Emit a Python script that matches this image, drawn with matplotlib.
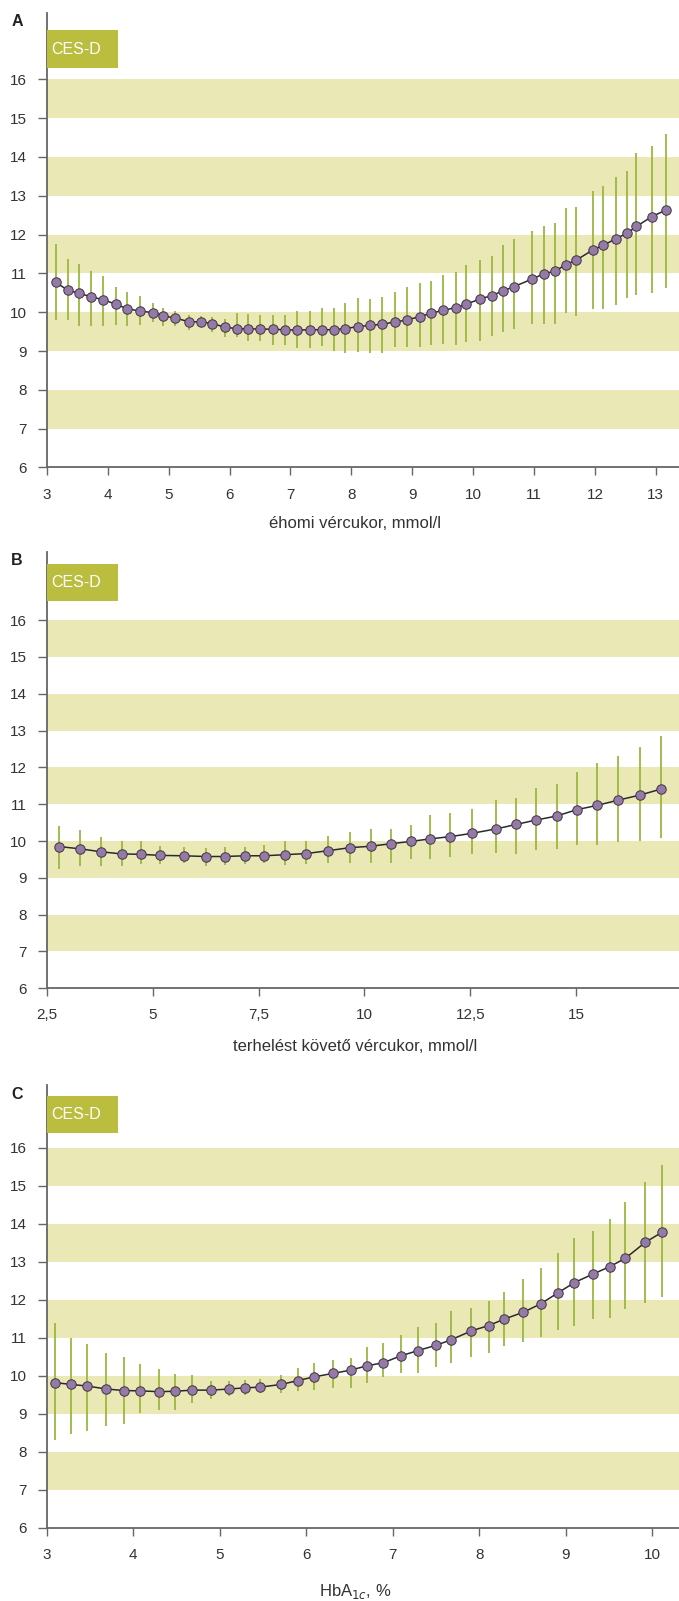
import matplotlib
matplotlib.use("Agg")
import matplotlib.pyplot as plt
from matplotlib.patches import Rectangle

plt.rcParams["font.family"] = ["Liberation Sans", "DejaVu Sans"]

# Panel A: fasting glucose (mmol/l) vs CES-D
a_x = [3.15, 3.34, 3.53, 3.72, 3.93, 4.13, 4.32, 4.53, 4.75, 4.91,
       5.10, 5.33, 5.53, 5.72, 5.93, 6.12, 6.31, 6.50, 6.72, 6.91,
       7.10, 7.32, 7.52, 7.71, 7.90, 8.11, 8.30, 8.50, 8.72, 8.91,
       9.13, 9.30, 9.51, 9.72, 9.89, 10.11, 10.31, 10.49, 10.67, 10.96,
       11.16, 11.35, 11.52, 11.69, 11.97, 12.13, 12.34, 12.53, 12.68, 12.93,
       13.16]
a_y = [10.77, 10.57, 10.49, 10.40, 10.32, 10.21, 10.09, 10.03, 9.99, 9.91,
       9.85, 9.76, 9.75, 9.71, 9.61, 9.58, 9.57, 9.57, 9.56, 9.55,
       9.54, 9.55, 9.55, 9.55, 9.58, 9.63, 9.66, 9.69, 9.75, 9.80,
       9.89, 9.97, 10.05, 10.12, 10.21, 10.34, 10.43, 10.55, 10.66, 10.85,
       10.99, 11.06, 11.23, 11.34, 11.61, 11.72, 11.89, 12.04, 12.21, 12.46,
       12.63]
a_hi = [11.76, 11.37, 11.24, 11.05, 10.94, 10.64, 10.53, 10.43, 10.25, 10.10,
        10.02, 9.93, 9.90, 9.87, 9.82, 9.97, 9.96, 9.93, 9.93, 9.93,
        10.02, 10.02, 10.12, 10.12, 10.23, 10.36, 10.34, 10.40, 10.53, 10.64,
        10.76, 10.81, 10.96, 11.03, 11.22, 11.35, 11.45, 11.72, 11.88, 12.10,
        12.21, 12.29, 12.68, 12.71, 13.13, 13.26, 13.48, 13.64, 14.10, 14.29,
        14.60]
a_lo = [9.80, 9.80, 9.65, 9.65, 9.65, 9.67, 9.65, 9.67, 9.76, 9.65,
        9.65, 9.54, 9.61, 9.50, 9.37, 9.36, 9.26, 9.26, 9.16, 9.16,
        9.07, 9.07, 9.13, 9.01, 8.94, 8.98, 8.94, 8.96, 9.10, 9.10,
        9.11, 9.16, 9.18, 9.16, 9.24, 9.27, 9.40, 9.48, 9.56, 9.69,
        9.70, 9.69, 9.97, 9.91, 10.08, 10.09, 10.19, 10.36, 10.45, 10.49,
        10.62]

# Panel B: post-load glucose (mmol/l) vs CES-D
b_x = [2.79, 3.28, 3.77, 4.27, 4.72, 5.18, 5.73, 6.25, 6.70, 7.18,
       7.64, 8.13, 8.63, 9.15, 9.66, 10.16, 10.64, 11.10, 11.56, 12.03,
       12.54, 13.11, 13.58, 14.05, 14.54, 15.01, 15.50, 15.99, 16.51, 17.00]
b_y = [9.85, 9.79, 9.71, 9.65, 9.64, 9.61, 9.60, 9.58, 9.58, 9.60,
       9.60, 9.63, 9.66, 9.74, 9.82, 9.86, 9.93, 9.99, 10.06, 10.12,
       10.21, 10.33, 10.45, 10.57, 10.68, 10.85, 10.97, 11.11, 11.25, 11.41]
b_hi = [10.42, 10.30, 10.12, 10.00, 10.01, 9.87, 9.83, 9.82, 9.83, 9.83,
        9.89, 10.00, 10.01, 10.14, 10.24, 10.32, 10.32, 10.44, 10.71, 10.75,
        10.87, 11.12, 11.16, 11.43, 11.55, 11.87, 12.11, 12.32, 12.55, 12.86]
b_lo = [9.23, 9.33, 9.32, 9.32, 9.38, 9.38, 9.41, 9.33, 9.35, 9.38,
        9.40, 9.35, 9.38, 9.40, 9.41, 9.40, 9.40, 9.51, 9.50, 9.56,
        9.64, 9.67, 9.64, 9.76, 9.78, 9.89, 9.88, 9.98, 9.99, 10.07]

# Panel C: HbA1c (%) vs CES-D
c_x = [3.09, 3.28, 3.46, 3.69, 3.89, 4.08, 4.30, 4.48, 4.68, 4.90,
       5.11, 5.29, 5.47, 5.71, 5.90, 6.09, 6.31, 6.52, 6.70, 6.89,
       7.09, 7.29, 7.50, 7.67, 7.91, 8.11, 8.29, 8.51, 8.71, 8.91,
       9.10, 9.31, 9.51, 9.69, 9.92, 10.11]
c_y = [9.82, 9.77, 9.73, 9.65, 9.61, 9.60, 9.58, 9.59, 9.62, 9.62,
       9.65, 9.68, 9.70, 9.77, 9.87, 9.97, 10.06, 10.15, 10.26, 10.34,
       10.52, 10.66, 10.80, 10.94, 11.18, 11.32, 11.49, 11.67, 11.89, 12.18,
       12.45, 12.67, 12.87, 13.09, 13.51, 13.77]
c_hi = [11.38, 10.98, 10.83, 10.59, 10.48, 10.31, 10.17, 10.04, 10.02, 9.87,
        9.87, 9.89, 9.91, 10.02, 10.19, 10.33, 10.41, 10.46, 10.76, 10.85,
        11.07, 11.29, 11.40, 11.71, 11.78, 11.97, 12.21, 12.54, 12.83, 13.22,
        13.62, 13.81, 14.12, 14.56, 15.09, 15.54]
c_lo = [8.31, 8.47, 8.55, 8.68, 8.73, 9.01, 9.10, 9.10, 9.27, 9.39,
        9.47, 9.49, 9.54, 9.55, 9.60, 9.62, 9.68, 9.68, 9.80, 9.97,
        10.08, 10.08, 10.22, 10.34, 10.50, 10.59, 10.78, 10.89, 11.03, 11.20,
        11.31, 11.50, 11.53, 11.76, 11.92, 12.08]

a_ticks = [3, 4, 5, 6, 7, 8, 9, 10, 11, 12, 13]
a_labels = [str(t) for t in a_ticks]
b_ticks = [2.5, 5, 7.5, 10, 12.5, 15]
b_labels = ["2,5", "5", "7,5", "10", "12,5", "15"]
c_ticks = [3, 4, 5, 6, 7, 8, 9, 10]
c_labels = [str(t) for t in c_ticks]
y_ticks = [6, 7, 8, 9, 10, 11, 12, 13, 14, 15, 16]
bands = [(7, 8), (9, 10), (11, 12), (13, 14), (15, 16)]

BAND = "#eae9b6"
BOX = "#bbbd3e"
ERR = "#9bb740"
DOT = "#957aa6"
EDGE = "#3e3345"
AXC = "#666666"
TXT = "#333333"

W, H = 679, 1601
fig = plt.figure(figsize=(W / 100, H / 100), dpi=100)

# letter, data, x range, ticks, x label, axes top/bottom in px, y-top value,
# CES-D box top/bottom px, x-label offset below axis px
panels = [
    ("A", a_x, a_y, a_lo, a_hi, (3, 13.38), a_ticks, a_labels,
     "éhomi vércukor, mmol/l", 13, 467.5, 17.71, (30, 68), 55.5),
    ("B", b_x, b_y, b_lo, b_hi, (2.5, 17.43), b_ticks, b_labels,
     "terhelést követő vércukor, mmol/l", 551.7, 988.3, 17.86, (564, 601), 58.4),
    ("C", c_x, c_y, c_lo, c_hi, (3, 10.31), c_ticks, c_labels,
     "HbA$_{1c}$, %", 1085, 1527.7, 17.65, (1096, 1133), 64),
]

left_px = 46.8
for (letter, x, y, lo, hi, xlim, ticks, labels, xlabel,
     top, bot, ymax, box, lab_off) in panels:
    h_px = bot - top
    ax = fig.add_axes([left_px / W, 1 - bot / H, 1 - left_px / W, h_px / H])
    ax.set_ylim(6, ymax)
    ax.set_xlim(*xlim)

    for b0, b1 in bands:
        ax.axhspan(b0, b1, color=BAND, lw=0, zorder=0)

    yerr = [[v - l for v, l in zip(y, lo)], [h - v for v, h in zip(y, hi)]]
    ax.errorbar(x, y, yerr=yerr, fmt="none", ecolor=ERR, elinewidth=1.3,
                capsize=0, zorder=2)
    ax.plot(x, y, color="#2a2a2a", lw=1.1, zorder=3)
    ax.plot(x, y, "o", ms=6.8, mfc=DOT, mec=EDGE, mew=0.7, zorder=4)

    ax.set_yticks(y_ticks)
    ax.set_xticks(ticks)
    ax.set_xticklabels(labels)
    ax.tick_params(axis="y", direction="out", length=6.5, width=1, color=AXC,
                   labelsize=11, labelcolor=TXT, pad=8)
    ax.tick_params(axis="x", direction="out", length=5.5, width=1, color=AXC,
                   labelsize=11, labelcolor=TXT, pad=9)
    for s in ("top", "right"):
        ax.spines[s].set_visible(False)
    for s in ("left", "bottom"):
        ax.spines[s].set_color(AXC)
        ax.spines[s].set_linewidth(1.3)

    # CES-D label box
    by0 = (bot - box[1]) / h_px
    by1 = (bot - box[0]) / h_px
    ax.add_patch(Rectangle((0, by0), 71 / (W - left_px), by1 - by0,
                           transform=ax.transAxes, color=BOX, lw=0,
                           zorder=5, clip_on=False))
    ax.text(4 / (W - left_px), (by0 + by1) / 2, "CES-D", transform=ax.transAxes,
            color="white", fontsize=11.5, va="center", ha="left", zorder=6)

    ax.text((355 - left_px) / (W - left_px), -lab_off / h_px, xlabel,
            transform=ax.transAxes, ha="center", va="center",
            fontsize=12, color=TXT)

    fig.text(17 / W, 1 - (top + 9) / H, letter, fontsize=11.5, fontweight="bold",
             ha="center", va="center", color="#222222")

fig.savefig("out.png", dpi=100)
